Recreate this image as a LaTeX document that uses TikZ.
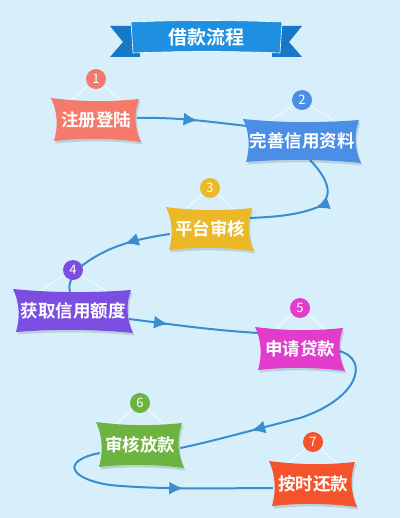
\documentclass[tikz,border=0pt]{standalone}
\usepackage{fontspec}
\newfontfamily\cjk{Noto Sans CJK SC}[BoldFont={Noto Sans CJK SC Bold}]
\usetikzlibrary{arrows.meta,decorations.markings,calc}
\definecolor{bgcol}{HTML}{D7EFFB}
\definecolor{conncol}{HTML}{3A8DCE}
\definecolor{ribbon}{HTML}{1F8FE0}
\definecolor{ribbondark}{HTML}{1878C8}
\definecolor{cA}{HTML}{F47A6C}
\definecolor{cB}{HTML}{4A8EE6}
\definecolor{cC}{HTML}{EBB827}
\definecolor{cD}{HTML}{7B4DE0}
\definecolor{cE}{HTML}{E23CCC}
\definecolor{cF}{HTML}{6DB33F}
\definecolor{cG}{HTML}{F4532C}
\pgfdeclarelayer{bglayer}
\pgfdeclarelayer{connlayer}
\pgfsetlayers{bglayer,connlayer,main}
% #1 name, #2 cx, #3 cy, #4 w, #5 h, #6 colour, #7 text, #8 number
\newcommand\mysign[8]{%
  \pgfmathsetmacro\hw{#4/2}\pgfmathsetmacro\hh{#5/2}\pgfmathsetmacro\hg{0.3*#4}%
  \def\pillowpath{(-\hw-2,-\hh-1) .. controls (-\hw/3,-\hh+3) and (\hw/3,-\hh+3) .. (\hw,-\hh)
    .. controls (\hw-5,-\hh/3) and (\hw-5,\hh/3) .. (\hw+2,\hh+1)
    .. controls (\hw/3,\hh-3) and (-\hw/3,\hh-3) .. (-\hw+1,\hh)
    .. controls (-\hw+5,\hh/3) and (-\hw+5,-\hh/3) .. cycle}%
  \begin{scope}[shift={(#2,#3)}]
    \fill[black,opacity=0.13,shift={(1.5,2.5)}] \pillowpath;
    \fill[#6] \pillowpath;
  \end{scope}
  \node[signtext,minimum width=#4,minimum height=#5] (#1) at (#2,#3) {#7};
  \node[numc,fill=#6] (#1c) at (#2,#3-\hh-20) {#8};
  \begin{pgfonlayer}{connlayer}
    \draw[hanger] (#1c.center) -- ($(#1.north)+(-\hg,2)$);
    \draw[hanger] (#1c.center) -- ($(#1.north)+(\hg,2)$);
  \end{pgfonlayer}
}
\begin{document}
\begin{tikzpicture}[x=1pt,y=-1pt,
  conn/.style={draw=conncol,line width=2pt,postaction={decorate},
    decoration={markings,mark=at position #1 with {\arrow{Latex[length=14pt,width=13pt]}}}},
  conn/.default=0.5,
  hanger/.style={draw=white,line width=0.7pt,opacity=0.85},
  signtext/.style={inner sep=0pt,text=white,font=\cjk\bfseries\fontsize{17.5}{20}\selectfont},
  numc/.style={circle,inner sep=0pt,minimum size=20pt,text=white,font=\cjk\fontsize{13}{13}\selectfont},
  titletext/.style={inner sep=0pt,text=white,font=\cjk\bfseries\fontsize{19}{22}\selectfont}]
\begin{pgfonlayer}{bglayer}
\fill[bgcol] (0,0) rectangle (400,518);
\end{pgfonlayer}
\useasboundingbox (0,0) rectangle (400,518);
% title ribbon
\fill[ribbondark] (140,26) -- (110,26) -- (123,42) -- (110,57) -- (140,57) -- cycle;
\fill[ribbondark] (272,26) -- (302,26) -- (289,42) -- (302,57) -- (272,57) -- cycle;
\fill[ribbon,draw=white,line width=0.6pt] (131,22) .. controls (180,20) and (232,20) .. (282,22) -- (280,53) .. controls (232,51) and (180,51) .. (133,53) -- cycle;
\node[titletext] (title) at (206,37) {借款流程};
% signs
\mysign{n1}{96}{120}{86}{42}{cA}{注册登陆}{1}
\mysign{n2}{302}{141}{114}{42}{cB}{完善信用资料}{2}
\mysign{n3}{210}{229}{84}{42}{cC}{平台审核}{3}
\mysign{n4}{73}{311}{116}{42}{cD}{获取信用额度}{4}
\mysign{n5}{300}{349}{86}{42}{cE}{申请贷款}{5}
\mysign{n6}{140}{445}{84}{44}{cF}{审核放款}{6}
\mysign{n7}{313}{484}{84}{44}{cG}{按时还款}{7}
% connectors
\begin{pgfonlayer}{connlayer}
\draw[conn=0.55] ($(n1.east)+(-2,-2)$) .. controls +(40,-1) and +(-35,-4) .. ($(n2.west)+(2,-15)$);
\draw[conn=0.47] ($(n2.south)+(8,-2)$) .. controls +(22,22) and +(14,-8) .. (318,207) .. controls +(-22,9) and +(20,-1) .. ($(n3.east)+(-2,-11)$);
\draw[conn=0.37] ($(n3.west)+(2,5)$) .. controls +(-40,6) and +(25,-20) .. ($(n4c.center)+(6,-2)$) .. controls +(-8,10) and +(-2,-8) .. ($(n4.north)+(-3,2)$);
\draw[conn=0.3] ($(n4.east)+(-2,8)$) .. controls +(40,5) and +(-50,-3) .. ($(n5.west)+(2,-16)$);
\draw[conn=0.68] ($(n5.east)+(-4,2)$) .. controls +(30,8) and +(60,-20) .. (300,418) .. controls +(-40,10) and +(30,-6) .. ($(n6.east)+(-2,3)$);
\draw[conn=0.62] ($(n6.west)+(2,8)$) .. controls +(-40,8) and +(-40,-6) .. (110,485) .. controls +(50,5) and +(-40,0) .. ($(n7.west)+(2,4)$);
\end{pgfonlayer}
\end{tikzpicture}
\end{document}
